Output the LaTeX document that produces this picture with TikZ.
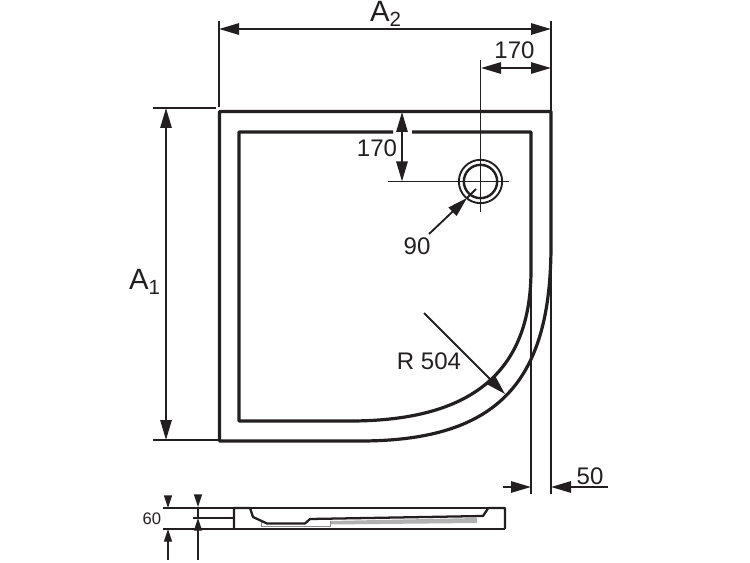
\documentclass[tikz,border=0pt]{standalone}
\usepackage{fontspec}
\setmainfont{Liberation Sans}
\usepackage{xcolor}
\usetikzlibrary{arrows.meta, positioning}
\definecolor{ink}{HTML}{231F20}
\tikzset{
  outline/.style={line width=2.4pt, color=ink, line join=round},
  thinline/.style={line width=1.4pt, color=ink},
  dim/.style={thinline, -{Triangle[length=15pt, width=8.5pt]}},
  dimboth/.style={thinline, {Triangle[length=15pt, width=8.5pt]}-{Triangle[length=15pt, width=8.5pt]}},
  smalldim/.style={thinline, line width=1pt, -{Triangle[length=9.5pt, width=6pt]}},
  lbl/.style={inner sep=0pt, text=ink, font=\fontsize{18}{20}\selectfont},
  biglbl/.style={inner sep=0pt, text=ink, font=\fontsize{22}{24}\selectfont},
  smalllbl/.style={inner sep=0pt, text=ink, font=\fontsize{12.5}{14}\selectfont}
}
\begin{document}
\begin{tikzpicture}[x=0.75pt, y=-0.75pt]
\useasboundingbox (0,0) rectangle (750,563);

% tray seen from above
\coordinate (outerTL) at (219.5,111.5);
\coordinate (outerTR) at (551,111.5);
\coordinate (outerBL) at (219.5,441);
\coordinate (innerTL) at (239,132);
\coordinate (innerTR) at (531,132);
\coordinate (innerBL) at (239,421);
\coordinate (gapL) at (393,132);
\coordinate (gapR) at (412,132);
\draw [outline] (outerTL) -- (outerTR) -- (551,245) .. controls (551,380) and (500,441) .. (360,441) -- (outerBL) -- cycle;
\draw [outline] (gapL) -- (innerTL) -- (innerBL) -- (350,421) .. controls (480,421) and (531,365) .. (531,270) -- (innerTR) -- (gapR);

% waste
\node [draw, circle, thinline, minimum size=32.5pt, inner sep=0pt, line width=1.4pt] (wasteOuter) at (480.5,181.5) {};
\node [draw, circle, thinline, minimum size=25pt, inner sep=0pt, line width=1.8pt] (wasteInner) at (480.5,181.5) {};

% A2
\coordinate (a2L) at (219,29);
\coordinate (a2R) at (551,29);
\draw [thinline] (219,21) -- (219,107);
\draw [thinline] (551,21) -- (outerTR);
\draw [dimboth] (a2L) -- (a2R);
\node [biglbl] (a2) at (386,14) {A\textsubscript{2}};

% A1
\coordinate (a1T) at (166,108);
\coordinate (a1B) at (166,440);
\draw [thinline] (153,108) -- (216,108);
\draw [thinline] (153,440) -- (218,440);
\draw [dimboth] (a1T) -- (a1B);
\node [biglbl] (a1) at (145,282) {A\textsubscript{1}};

% 170 to the side
\coordinate (sideL) at (481,68);
\coordinate (sideR) at (551,68);
\draw [thinline] (480.5,60) -- (480.5,212);
\draw [dimboth] (sideL) -- (sideR);
\node [lbl] (side) at (514.5,50) {170};

% 170 from the top
\coordinate (topT) at (402,112);
\coordinate (topB) at (402,181.5);
\draw [thinline] (388,181.5) -- (509,181.5);
\draw [dimboth] (topT) -- (topB);
\node [lbl] (top) at (377,148.5) {170};

% 90
\coordinate (holeTail) at (429,234);
\coordinate (holeTip) at (467,198);
\coordinate (holeEnd) at (476,189);
\draw [dim] (holeTail) -- (holeTip);
\draw [thinline] (holeTip) -- (holeEnd);
\node [lbl] (hole) at (417,246) {90};

% R 504
\coordinate (radTail) at (424,313);
\coordinate (radTip) at (505,394);
\draw [dim] (radTail) -- (radTip);
\node [lbl] (rad) at (429,361) {R 504};

% 50
\coordinate (rimL) at (531,487);
\coordinate (rimR) at (551,487);
\coordinate (rimTailL) at (503,487);
\coordinate (rimTailR) at (608,487);
\draw [thinline] (531,270) -- (531,494);
\draw [thinline] (551,245) -- (551,494);
\draw [dim] (rimTailL) -- (rimL);
\draw [dim] (rimTailR) -- (rimR);
\node [lbl] (rim) at (590,476) {50};

% section
\fill [black!30] (330,521) -- (477,518) -- (477,523) -- (330,524.5) -- cycle;
\draw [black!45, line width=0.6pt] (261,521.5) -- (261,526) -- (330,526) -- (330,521);
\draw [thinline, line width=1pt] (163,508) -- (505,508);
\draw [thinline, line width=1pt] (163,529) -- (505,529);
\draw [thinline, line width=1pt] (193,518) -- (234,518);
\draw [outline, line width=1.7pt] (234,529) -- (234,508) -- (250,508) -- (253,517) -- (267,523.5) -- (305,523.5) -- (310,519) -- (483,516) -- (487,510) -- (488,508) -- (505,508) -- (505,529);
\draw [smalldim] (168,496) -- (168,508);
\draw [smalldim] (198,496) -- (198,507);
\draw [thinline, line width=1pt] (198,507) -- (198,518);
\draw [smalldim] (168,560) -- (168,529);
\draw [smalldim] (198,560) -- (198,518);
\node [smalllbl] (height) at (152,519) {60};
\end{tikzpicture}
\end{document}
